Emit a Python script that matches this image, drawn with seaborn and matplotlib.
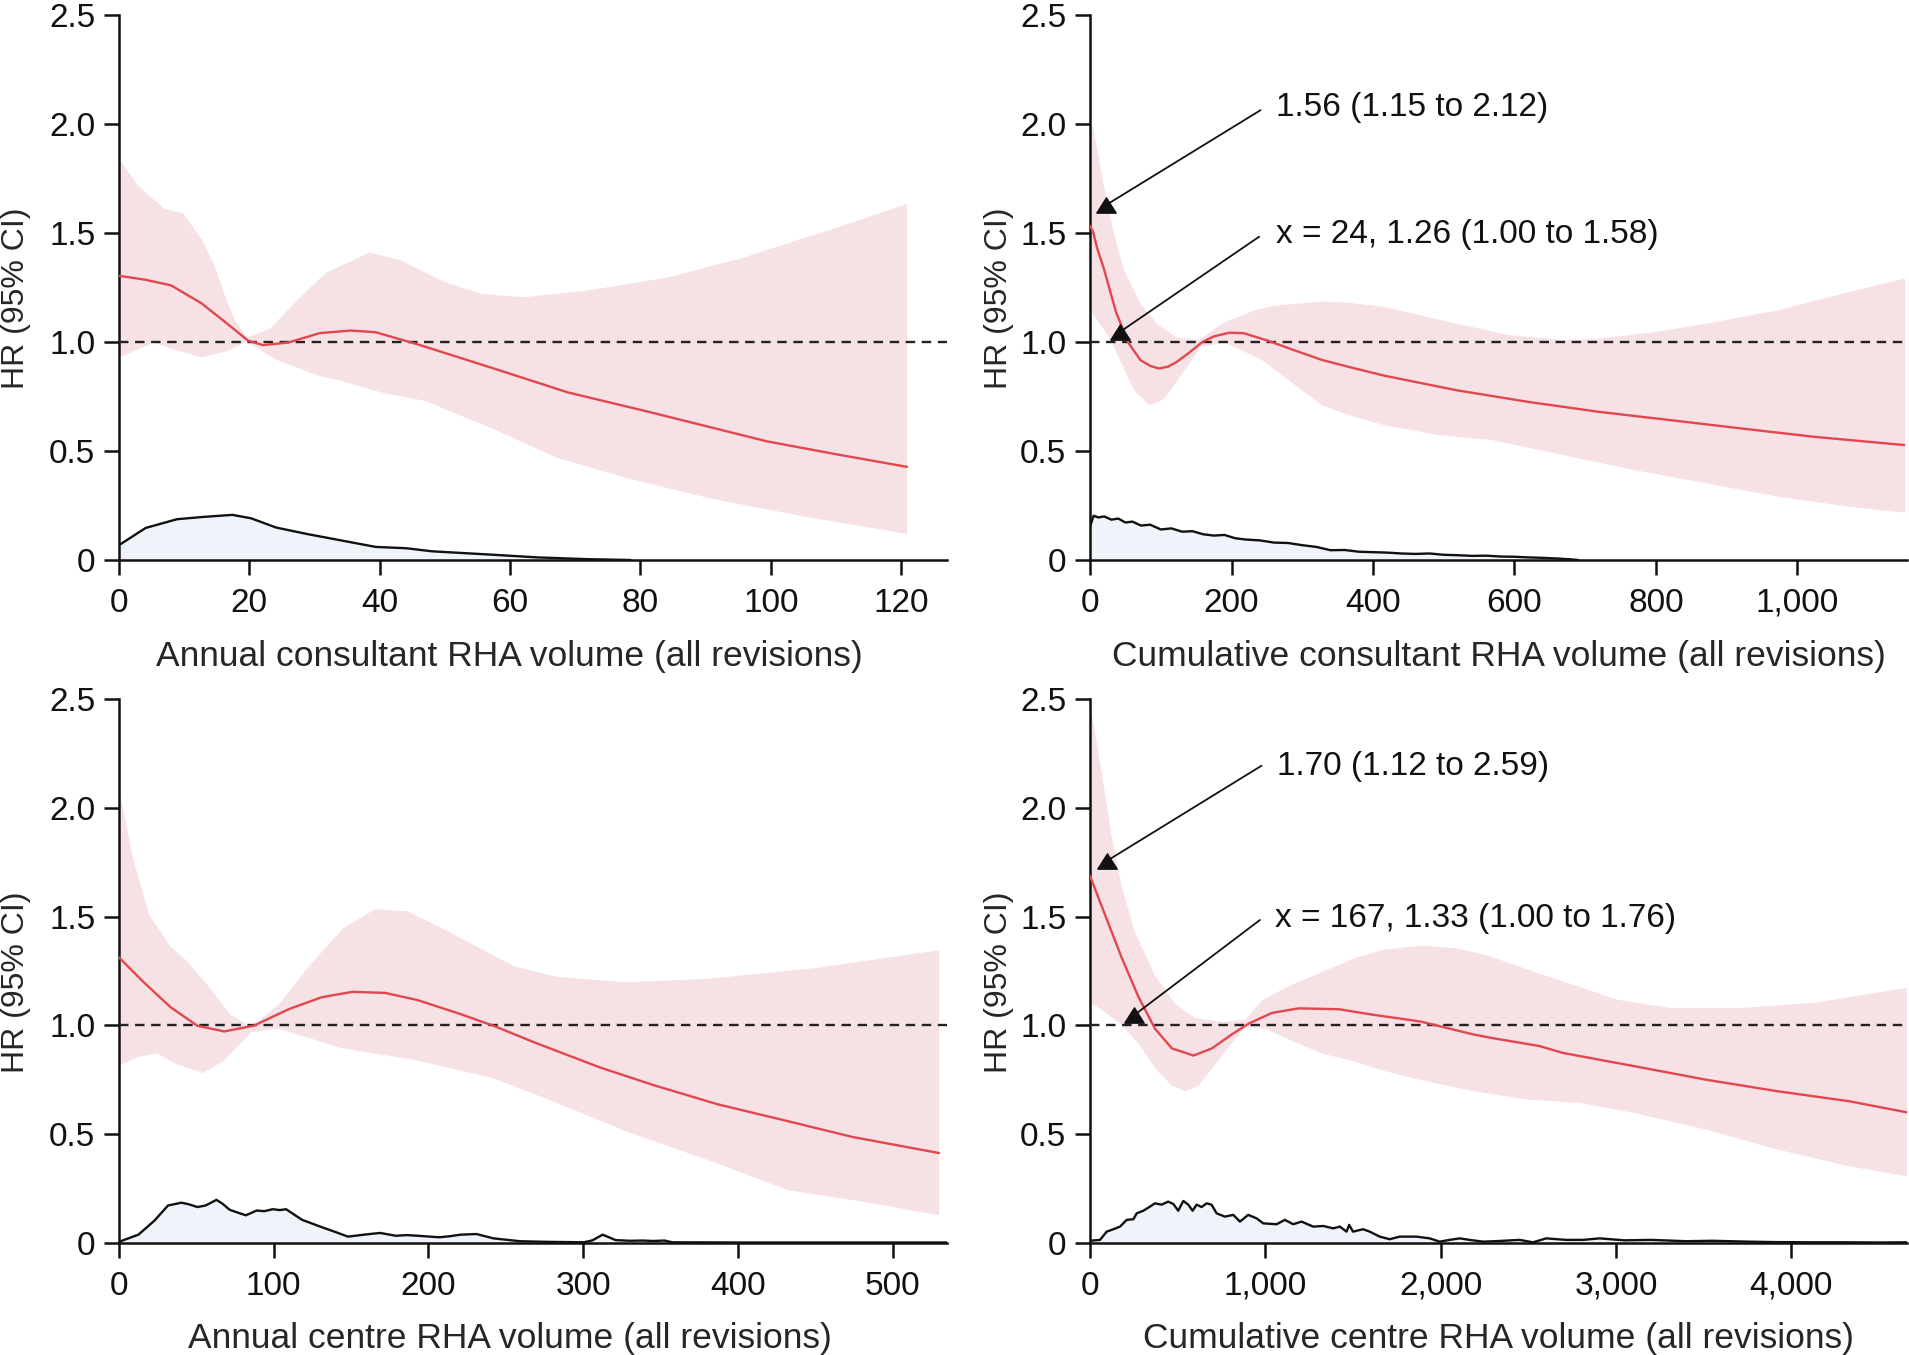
import numpy as np
import matplotlib
matplotlib.use('Agg')
import matplotlib.pyplot as plt
import seaborn as sns

## Data
# Panel A: annual consultant volume
tl_x = [0, 4, 8, 12.7, 16.5, 19.8, 22.1, 26, 30.8, 35.6, 39.4, 46, 57.5, 68.9, 81.3, 99.4, 110, 120.9]
tl_hr = [1.303, 1.285, 1.259, 1.176, 1.086, 1.006, 0.985, 0.997, 1.04, 1.052, 1.044, 0.987, 0.878, 0.768, 0.679, 0.544, 0.485, 0.427]
tl_hi_x = [0, 3.1, 7, 9.8, 12.7, 14.6, 16.5, 17.9, 19.6, 23.2, 27.3, 31.7, 38.4, 43.2, 49.9, 55.6, 62.3, 71.8, 84.2, 95.6, 109, 120.9]
tl_hi = [1.84, 1.71, 1.61, 1.59, 1.47, 1.354, 1.19, 1.096, 1.02, 1.06, 1.19, 1.315, 1.41, 1.374, 1.275, 1.219, 1.205, 1.235, 1.295, 1.384, 1.513, 1.632]
tl_lo_x = [0, 5.3, 8.9, 12.7, 16.5, 19.6, 24, 30.8, 33.7, 40.3, 47, 57.5, 67, 78.5, 90.8, 105, 120.9]
tl_lo = [0.927, 0.996, 0.961, 0.929, 0.957, 1.0, 0.92, 0.843, 0.824, 0.768, 0.729, 0.6, 0.471, 0.371, 0.282, 0.2, 0.119]
tl_dx = [0, 4.1, 8.9, 12.7, 17.4, 20.3, 24.1, 28.9, 34.6, 39.4, 44.1, 48, 57.5, 64.2, 71.8, 78.5]
tl_dens = [0.068, 0.147, 0.187, 0.197, 0.207, 0.191, 0.149, 0.119, 0.087, 0.06, 0.054, 0.04, 0.024, 0.012, 0.004, 0.0]

# Panel B: cumulative consultant volume
tr_x = [0, 4.7, 10, 19.7, 28, 36.8, 54, 71, 85, 97, 110, 122.5, 140, 159, 175, 197, 217, 251, 290, 328,
        366, 416, 517, 619, 720, 821, 921, 1023, 1151]
tr_hr = [1.533, 1.5, 1.43, 1.334, 1.237, 1.136, 0.997, 0.917, 0.89, 0.878, 0.886, 0.908, 0.95, 1.0, 1.025, 1.042, 1.04, 1.006, 0.96, 0.917,
         0.885, 0.845, 0.779, 0.725, 0.679, 0.641, 0.603, 0.565, 0.527]
tr_hi_x = [0, 4.7, 18.7, 32.8, 46.8, 70, 94, 122, 154, 187, 234, 260, 328, 366, 416, 517, 593, 669, 720, 801, 872, 973, 1074, 1152]
tr_hi = [2.0, 1.98, 1.73, 1.51, 1.34, 1.18, 1.085, 1.02, 1.008, 1.085, 1.146, 1.165, 1.185, 1.179, 1.16, 1.084, 1.031, 1.008, 1.015, 1.046, 1.084, 1.145, 1.229, 1.29]
tr_lo_x = [0, 28, 45, 62.5, 84, 105, 131, 157, 191, 243, 328, 366, 416, 492, 568, 669, 770, 872, 973, 1074, 1152]
tr_lo = [1.146, 1.017, 0.898, 0.778, 0.709, 0.739, 0.858, 0.977, 0.997, 0.917, 0.709, 0.664, 0.618, 0.573, 0.55, 0.481, 0.412, 0.351, 0.29, 0.244, 0.217]
tr_dx = [0, 5, 12, 20, 30, 40, 50, 60, 72, 85, 100, 115, 130, 145, 160, 175, 190, 205, 220, 240,
         260, 280, 300, 320, 340, 360, 380, 400, 420, 440, 460, 480, 500, 520, 540, 560, 580, 600, 620, 640,
         660, 680, 690]
tr_dens = [0.153, 0.203, 0.195, 0.2, 0.185, 0.19, 0.172, 0.176, 0.158, 0.162, 0.14, 0.145, 0.13, 0.132, 0.118, 0.112, 0.115, 0.1, 0.094, 0.09,
           0.08, 0.078, 0.068, 0.06, 0.045, 0.046, 0.038, 0.036, 0.034, 0.03, 0.028, 0.03, 0.024, 0.022, 0.019, 0.02, 0.016, 0.015, 0.012, 0.01,
           0.007, 0.003, 0.0]

# Panel C: annual centre volume
bl_x = [0, 16, 33.4, 50.7, 68, 87, 110, 131, 151, 172, 193, 221, 242, 269, 311, 346, 387, 432, 474, 530]
bl_hr = [1.312, 1.198, 1.083, 0.998, 0.972, 0.998, 1.075, 1.129, 1.154, 1.149, 1.116, 1.051, 0.998, 0.92, 0.806, 0.724, 0.637, 0.56, 0.487, 0.413]
bl_hi_x = [0, 9, 19.5, 33.4, 43.8, 57.7, 71.6, 85.5, 102.9, 123.7, 144.5, 165.3, 186, 214, 255.6, 283.4, 328.5, 380.6, 450, 530]
bl_hi = [2.096, 1.77, 1.508, 1.361, 1.296, 1.181, 1.051, 0.993, 1.092, 1.279, 1.443, 1.533, 1.525, 1.426, 1.271, 1.222, 1.198, 1.214, 1.263, 1.345]
bl_lo_x = [0, 12.6, 24.7, 36.9, 54.2, 68, 85.5, 102.9, 144.5, 193, 242, 283.4, 328.5, 380.6, 432.7, 484.7, 530]
bl_lo = [0.814, 0.855, 0.871, 0.822, 0.781, 0.838, 0.969, 0.985, 0.895, 0.838, 0.757, 0.642, 0.511, 0.381, 0.242, 0.185, 0.127]
bl_dx = [0, 12.6, 23, 31.7, 40.4, 45, 50.7, 56, 63, 67, 71.6, 82, 89, 94, 99.3, 104, 108, 118.4, 130.5, 140,
         148, 158.3, 168.7, 179, 186, 193, 207, 214, 220.7, 231, 242, 259, 277, 300.5, 306, 312.6, 321, 330, 338.6, 345,
         352.5, 357.6, 400, 450, 500, 535]
bl_dens = [0.005, 0.038, 0.103, 0.172, 0.185, 0.178, 0.165, 0.172, 0.198, 0.18, 0.152, 0.127, 0.149, 0.146, 0.155, 0.151, 0.155, 0.106, 0.074, 0.05,
           0.029, 0.038, 0.046, 0.033, 0.036, 0.033, 0.026, 0.031, 0.038, 0.041, 0.021, 0.008, 0.005, 0.003, 0.012, 0.038, 0.013, 0.01, 0.011, 0.009,
           0.011, 0.003, 0.002, 0.002, 0.002, 0.002]

# Panel D: cumulative centre volume
br_x = [0, 86, 181, 276, 371, 467, 590, 695, 810, 905, 1038, 1190, 1419, 1610, 1882, 2181, 2290, 2562, 2698, 3106, 3514, 3922, 4331, 4660]
br_hr = [1.686, 1.507, 1.31, 1.131, 0.984, 0.894, 0.861, 0.894, 0.959, 1.008, 1.057, 1.078, 1.074, 1.049, 1.018, 0.959, 0.942, 0.905, 0.873, 0.812, 0.75, 0.697, 0.651, 0.6]
br_hi_x = [0, 9.5, 67, 124, 181, 257, 371, 486, 600, 752, 886, 981, 1133, 1324, 1514, 1678, 1882, 2086, 2276, 2392, 2562, 2698, 3004, 3310, 3718, 4127, 4660]
br_hi = [2.45, 2.438, 2.16, 1.866, 1.637, 1.425, 1.229, 1.098, 1.033, 1.016, 1.025, 1.114, 1.18, 1.245, 1.31, 1.348, 1.366, 1.355, 1.319, 1.286, 1.237, 1.202, 1.118, 1.08, 1.08, 1.103, 1.172]
br_lo_x = [0, 105, 181, 276, 371, 467, 543, 619, 714, 810, 886, 1000, 1133, 1324, 1480, 1680, 1880, 2188, 2494, 2800, 3106, 3514, 3922, 4331, 4660]
br_lo = [1.106, 1.049, 1.0, 0.918, 0.804, 0.722, 0.698, 0.722, 0.82, 0.918, 0.992, 0.984, 0.935, 0.87, 0.84, 0.79, 0.75, 0.697, 0.659, 0.643, 0.597, 0.521, 0.429, 0.352, 0.306]
br_dx = [0, 57, 95, 133, 171, 209, 247, 266, 304, 342, 370, 408, 446, 475, 503, 532, 560, 585, 608, 636,
         665, 693, 722, 769, 817, 855, 902, 950, 988, 1064, 1111, 1159, 1206, 1273, 1330, 1387, 1425, 1463, 1478, 1500,
         1557, 1595, 1652, 1709, 1766, 1861, 1937, 1994, 2051, 2108, 2165, 2241, 2336, 2450, 2526, 2602, 2716, 2811, 2906, 3050,
         3200, 3400, 3550, 3750, 3900, 4100, 4300, 4500, 4660]
br_dens = [0.01, 0.014, 0.052, 0.063, 0.075, 0.106, 0.109, 0.136, 0.148, 0.167, 0.182, 0.176, 0.19, 0.179, 0.148, 0.193, 0.176, 0.148, 0.176, 0.165,
           0.182, 0.176, 0.136, 0.121, 0.129, 0.098, 0.129, 0.113, 0.09, 0.086, 0.106, 0.086, 0.098, 0.075, 0.078, 0.067, 0.075, 0.052, 0.083, 0.052,
           0.063, 0.052, 0.029, 0.017, 0.029, 0.029, 0.021, 0.006, 0.014, 0.021, 0.014, 0.006, 0.009, 0.014, 0.003, 0.021, 0.014, 0.014, 0.021, 0.012,
           0.014, 0.008, 0.01, 0.006, 0.004, 0.003, 0.003, 0.002, 0.003]

# Axis labels and ticks
xlabels = ['Annual consultant RHA volume (all revisions)',
           'Cumulative consultant RHA volume (all revisions)',
           'Annual centre RHA volume (all revisions)',
           'Cumulative centre RHA volume (all revisions)']
xmax = [127, 1155, 535, 4660]
xticks = [[0, 20, 40, 60, 80, 100, 120],
          [0, 200, 400, 600, 800, 1000],
          [0, 100, 200, 300, 400, 500],
          [0, 1000, 2000, 3000, 4000]]
yticks = [0, 0.5, 1.0, 1.5, 2.0, 2.5]
ytick_labels = ['0', '0.5', '1.0', '1.5', '2.0', '2.5']

# Annotations: (text, text x, text y, line start x, line start y, marker x, marker y)
notes_tr = [('1.56 (1.15 to 2.12)', 263, 2.076, 241, 2.062, 22.5, 1.627),
            ('x = 24, 1.26 (1.00 to 1.58)', 263, 1.49, 239, 1.482, 42, 1.045)]
notes_br = [('1.70 (1.12 to 2.59)', 1066, 2.188, 978, 2.193, 95, 1.755),
            ('x = 167, 1.33 (1.00 to 1.76)', 1054, 1.489, 969, 1.484, 252, 1.047)]


## Style
red = '#E2474F'
pink = '#F6E1E5'
blue_fill = '#EFF3FA'
fs_tick = 24
fs_xlab = 25.5
fs_ylab = 23

sns.set_theme(style='ticks')
plt.rcParams['font.family'] = ['Liberation Sans', 'DejaVu Sans']

fig = plt.figure(figsize=(19.09, 13.55), dpi=100)

# Axes positions in figure fractions
positions = [[0.0623, 0.5867, 0.4337, 0.4025],
             [0.5710, 0.5867, 0.4280, 0.4025],
             [0.0623, 0.0827, 0.4337, 0.4015],
             [0.5710, 0.0827, 0.4280, 0.4015]]

panels = [(tl_x, tl_hr, tl_hi_x, tl_hi, tl_lo_x, tl_lo, tl_dx, tl_dens),
          (tr_x, tr_hr, tr_hi_x, tr_hi, tr_lo_x, tr_lo, tr_dx, tr_dens),
          (bl_x, bl_hr, bl_hi_x, bl_hi, bl_lo_x, bl_lo, bl_dx, bl_dens),
          (br_x, br_hr, br_hi_x, br_hi, br_lo_x, br_lo, br_dx, br_dens)]

xlab_pos = [0.472, 0.5, 0.472, 0.5]
ylab_pos = [-0.106, -0.093, -0.106, -0.093]

# Flattened triangle for the arrow heads
tri = [(-1.27, -1.0), (1.27, -1.0), (0.0, 1.0), (-1.27, -1.0)]

axs = []
for i, (hx, hr, hix, hi, lox, lo, dx, dens) in enumerate(panels):
    ax = fig.add_axes(positions[i])
    axs.append(ax)

    # Confidence band as one polygon: upper edge forward, lower edge back
    ax.fill(np.r_[hix, lox[::-1]], np.r_[hi, lo[::-1]], color=pink, lw=0, zorder=1)

    # Density of volume at the bottom
    ax.fill_between(dx, 0, dens, color=blue_fill, lw=0, zorder=2)
    sns.lineplot(x=dx, y=dens, ax=ax, color='#111111', linewidth=1.7, zorder=3, sort=False)

    # Reference line at HR = 1
    ax.axhline(1.0, color='#222222', lw=1.7, ls=(0, (4, 2.8)), zorder=4)

    # Hazard ratio spline
    sns.lineplot(x=hx, y=hr, ax=ax, color=red, linewidth=1.7, zorder=5, sort=False)

    ax.set_xlim(0, xmax[i])
    ax.set_ylim(0, 2.5)
    ax.set_xticks(xticks[i])
    ax.set_xticklabels([f'{t:,}' for t in xticks[i]])
    ax.set_yticks(yticks)
    ax.set_yticklabels(ytick_labels)

    ax.set_xlabel(xlabels[i], fontsize=fs_xlab)
    ax.xaxis.set_label_coords(xlab_pos[i], -0.146)
    ax.set_ylabel('HR (95% CI)', fontsize=fs_ylab)
    ax.yaxis.set_label_coords(ylab_pos[i], 0.48)

    for side in ['top', 'right']:
        ax.spines[side].set_visible(False)
    for side in ['left', 'bottom']:
        ax.spines[side].set_linewidth(1.8)
        ax.spines[side].set_color('#111111')
    ax.tick_params(axis='both', direction='out', length=11, width=1.8, color='#111111',
                   labelsize=fs_tick, labelcolor='#111111')
    ax.tick_params(axis='x', pad=9)
    ax.tick_params(axis='y', pad=6)

# Annotations with arrows on the cumulative panels
for ax, notes in [(axs[1], notes_tr), (axs[3], notes_br)]:
    for txt, tx, ty, sx, sy, mx, my in notes:
        ax.plot([sx, mx], [sy, my], color='#111111', lw=1.3, zorder=6)
        ax.plot([mx], [my], marker=tri, markersize=14, color='#111111', lw=0, zorder=7)
        ax.text(tx, ty, txt, fontsize=fs_tick, va='center', ha='left', color='#111111', zorder=8)

plt.savefig('out.png', dpi=100)
